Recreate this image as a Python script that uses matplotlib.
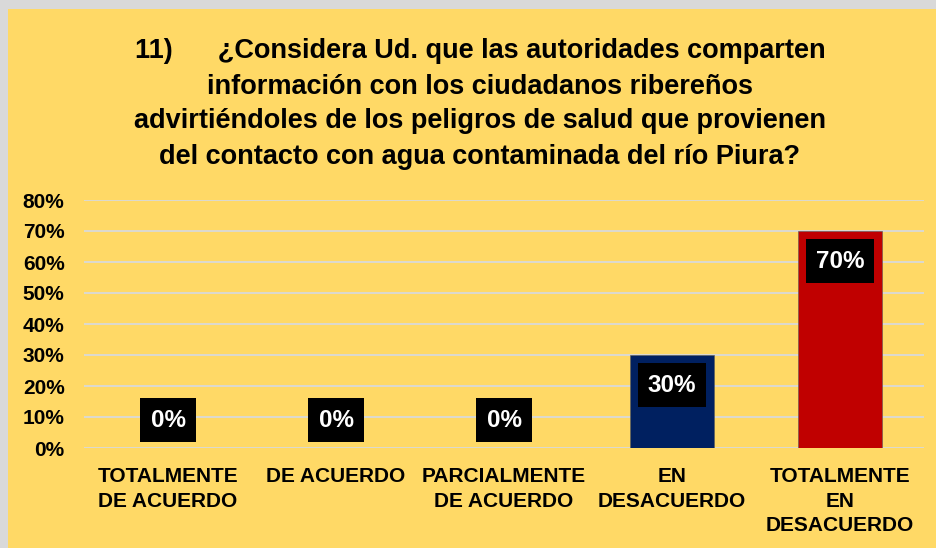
import matplotlib.pyplot as plt
from matplotlib.patches import Rectangle
from matplotlib.ticker import PercentFormatter

# datos de la pregunta 11
categorias = ['TOTALMENTE\nDE ACUERDO', 'DE ACUERDO', 'PARCIALMENTE\nDE ACUERDO',
              'EN\nDESACUERDO', 'TOTALMENTE\nEN\nDESACUERDO']
valores = [0.0, 0.0, 0.0, 0.30, 0.70]
colores = ['#002060', '#002060', '#002060', '#002060', '#C00000']
etiquetas = ['0%', '0%', '0%', '30%', '70%']
yticks = [0, 0.1, 0.2, 0.3, 0.4, 0.5, 0.6, 0.7, 0.8]

titulo = ('11)      \u00bfConsidera Ud. que las autoridades comparten\n'
          'informaci\u00f3n con los ciudadanos ribere\u00f1os\n'
          'advirti\u00e9ndoles de los peligros de salud que provienen\n'
          'del contacto con agua contaminada del r\u00edo Piura?')

plt.rcParams['font.family'] = ['Liberation Sans', 'DejaVu Sans']
plt.rcParams['font.weight'] = 'bold'

fondo = '#FFD966'
fig = plt.figure(figsize=(9.37, 5.48), dpi=100)
fig.patch.set_facecolor(fondo)
# borde gris arriba e izquierda
fig.patches.append(Rectangle((0, 0), 8 / 937, 1, transform=fig.transFigure,
                             facecolor='#D9D9D9', edgecolor='none'))
fig.patches.append(Rectangle((0, 1 - 9 / 548), 1, 9 / 548, transform=fig.transFigure,
                             facecolor='#D9D9D9', edgecolor='none'))

ax = fig.add_axes([84 / 937, 100 / 548, 840 / 937, 248 / 548])
ax.set_facecolor('none')

x = range(len(categorias))
ax.bar(x, valores, width=0.5, color=colores, edgecolor='#5a5a5a', linewidth=0.4, zorder=3)

# etiquetas en caja negra, dentro del extremo de la barra
for i, (v, t) in enumerate(zip(valores, etiquetas)):
    y = max(v - 0.097, 0.09)
    ax.text(i, y, t, ha='center', va='center', color='white', fontsize=17.5,
            fontweight='bold', zorder=4,
            bbox=dict(boxstyle='square,pad=0.42', facecolor='black', edgecolor='none'))

ax.set_xlim(-0.5, len(categorias) - 0.5)
ax.set_ylim(0, 0.8)
ax.set_yticks(yticks)
ax.yaxis.set_major_formatter(PercentFormatter(1.0, decimals=0))
ax.grid(axis='y', color='#D9D9D9', linewidth=1.3, zorder=0)
ax.set_xticks(list(x))
ax.set_xticklabels(categorias, fontsize=15, fontweight='bold', linespacing=1.35)
ax.tick_params(axis='x', length=0, pad=14)
ax.tick_params(axis='y', length=0, pad=14, labelsize=15)
for lab in ax.get_yticklabels():
    lab.set_fontweight('bold')
for s in ax.spines.values():
    s.set_visible(False)

fig.text(480 / 937, 1 - 104 / 548, titulo, ha='center', va='center', fontsize=19.5,
         fontweight='bold', linespacing=1.45, multialignment='center')

fig.savefig('out.png', dpi=100, facecolor=fig.get_facecolor())
